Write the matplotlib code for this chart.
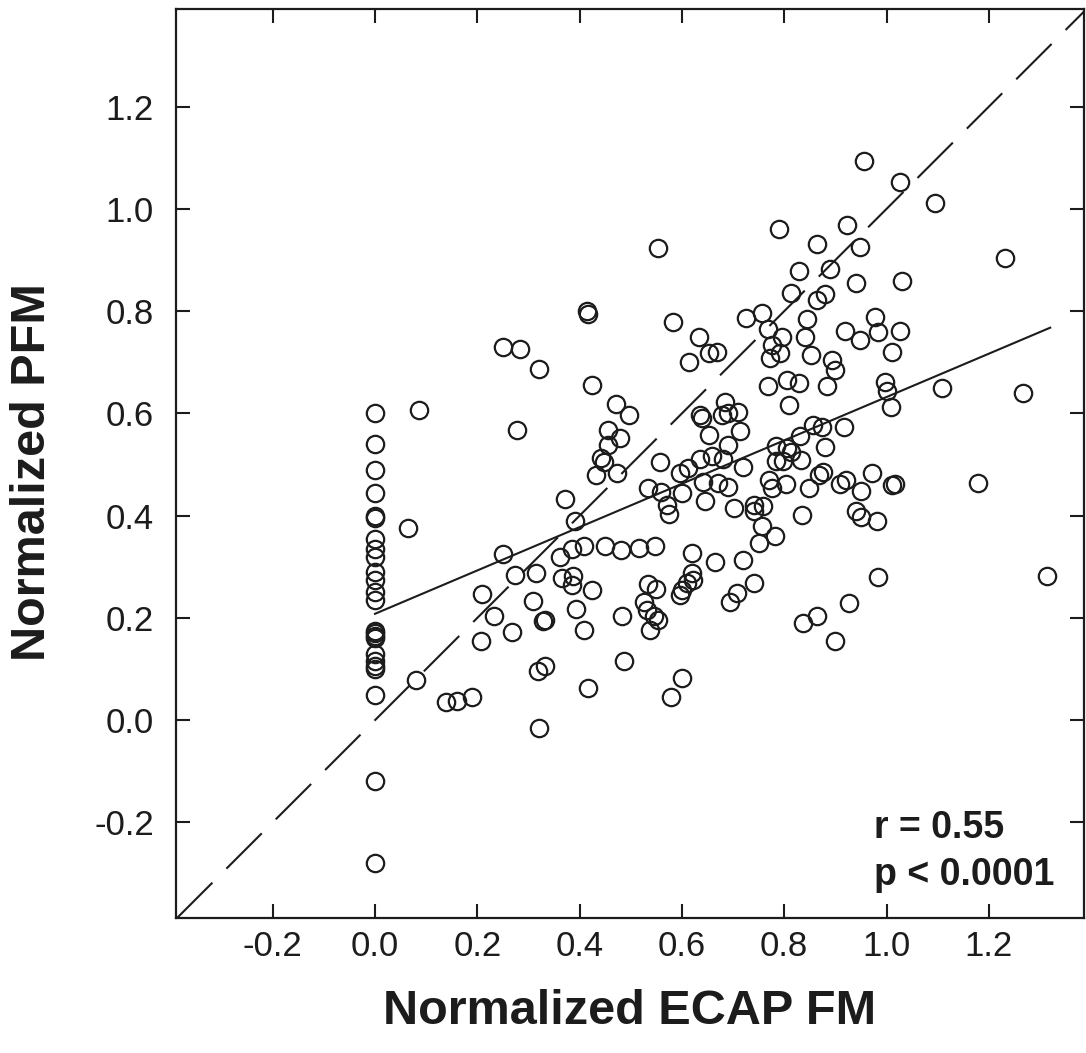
import matplotlib
matplotlib.use("Agg")
import matplotlib.pyplot as plt
import numpy as np

plt.rcParams['font.family'] = ['Liberation Sans', 'DejaVu Sans']

# ---- data -------------------------------------------------------------
# subjects with ECAP FM == 0
zero_col_y = [0.60, 0.54, 0.49, 0.445, 0.40, 0.395, 0.355, 0.335, 0.32, 0.29,
              0.275, 0.25, 0.235, 0.175, 0.17, 0.165, 0.16, 0.13, 0.115, 0.105,
              0.10, 0.05, -0.12, -0.28]

ecap_fm = [0.087, 0.065, 0.081, 0.139, 0.160, 0.190, 0.251, 0.283, 0.321, 0.277,
           0.415, 0.417, 0.425, 0.472, 0.497, 0.456, 0.479, 0.456, 0.442, 0.447,
           0.433, 0.474, 0.251, 0.210, 0.232, 0.207, 0.268, 0.274, 0.315, 0.308,
           0.329, 0.332, 0.318, 0.333, 0.320, 0.371, 0.391, 0.362, 0.386, 0.409,
           0.450, 0.365, 0.388, 0.385, 0.424, 0.393, 0.409, 0.416, 0.480, 0.517,
           0.548, 0.482, 0.487, 0.534, 0.550, 0.525, 0.532, 0.545, 0.554, 0.538,
           0.600, 0.578, 0.619, 0.665, 0.719, 0.740, 0.707, 0.694, 0.619, 0.622,
           0.609, 0.600, 0.596, 0.837, 0.865, 0.927, 0.899, 0.984, 1.314, 0.558,
           0.596, 0.611, 0.635, 0.658, 0.680, 0.691, 0.720, 0.534, 0.560, 0.600,
           0.574, 0.570, 0.641, 0.645, 0.671, 0.691, 0.702, 0.740, 0.741, 0.759,
           0.756, 0.782, 0.751, 0.771, 0.776, 0.804, 0.783, 0.805, 0.813, 0.784,
           0.797, 0.833, 0.849, 0.867, 0.875, 0.880, 0.834, 0.909, 0.921, 0.940,
           0.951, 0.982, 0.971, 0.951, 1.010, 1.016, 1.178, 0.831, 0.857, 0.874,
           0.916, 0.635, 0.639, 0.684, 0.678, 0.691, 0.710, 0.652, 0.714, 0.769,
           0.805, 0.829, 0.883, 0.810, 0.633, 0.652, 0.668, 0.613, 0.583, 0.725,
           0.756, 0.769, 0.795, 0.841, 0.776, 0.792, 0.772, 0.852, 0.844, 0.893,
           0.899, 0.918, 0.948, 0.978, 0.984, 1.026, 1.010, 0.997, 1.000, 1.008,
           1.108, 1.267, 0.554, 0.790, 0.922, 0.865, 0.948, 0.828, 0.890, 0.940,
           1.030, 0.813, 0.864, 0.880, 0.955, 1.026, 1.094, 1.232]

pfm = [0.607, 0.376, 0.079, 0.036, 0.037, 0.045, 0.729, 0.726, 0.687, 0.568,
       0.800, 0.795, 0.656, 0.619, 0.597, 0.568, 0.552, 0.539, 0.513, 0.505,
       0.480, 0.483, 0.325, 0.247, 0.203, 0.155, 0.172, 0.284, 0.288, 0.234,
       0.193, 0.195, 0.097, 0.105, -0.015, 0.432, 0.389, 0.320, 0.335, 0.340,
       0.341, 0.278, 0.281, 0.265, 0.254, 0.218, 0.176, 0.063, 0.333, 0.337,
       0.340, 0.203, 0.115, 0.267, 0.256, 0.232, 0.216, 0.203, 0.196, 0.177,
       0.082, 0.045, 0.327, 0.309, 0.314, 0.268, 0.249, 0.232, 0.288, 0.275,
       0.268, 0.255, 0.245, 0.190, 0.203, 0.229, 0.154, 0.280, 0.281, 0.505,
       0.483, 0.493, 0.510, 0.516, 0.510, 0.539, 0.495, 0.454, 0.447, 0.444,
       0.404, 0.421, 0.465, 0.428, 0.464, 0.457, 0.415, 0.421, 0.410, 0.418,
       0.379, 0.361, 0.346, 0.469, 0.454, 0.462, 0.537, 0.533, 0.524, 0.506,
       0.506, 0.508, 0.454, 0.480, 0.486, 0.535, 0.402, 0.462, 0.470, 0.410,
       0.398, 0.389, 0.483, 0.449, 0.460, 0.462, 0.464, 0.555, 0.578, 0.574,
       0.573, 0.597, 0.591, 0.623, 0.597, 0.601, 0.602, 0.558, 0.566, 0.653,
       0.666, 0.660, 0.653, 0.617, 0.750, 0.718, 0.721, 0.701, 0.778, 0.787,
       0.796, 0.765, 0.750, 0.750, 0.734, 0.718, 0.708, 0.715, 0.784, 0.705,
       0.685, 0.761, 0.744, 0.789, 0.760, 0.761, 0.721, 0.662, 0.643, 0.613,
       0.649, 0.640, 0.924, 0.960, 0.969, 0.932, 0.926, 0.879, 0.882, 0.855,
       0.858, 0.836, 0.822, 0.833, 1.093, 1.053, 1.012, 0.904]

# linear fit shown in the figure
fit_x = [0.0, 1.32]
fit_intercept = 0.208
fit_slope = 0.424

x_ticks = [-0.2, 0.0, 0.2, 0.4, 0.6, 0.8, 1.0, 1.2]
y_ticks = [-0.2, 0.0, 0.2, 0.4, 0.6, 0.8, 1.0, 1.2]
stats_text = ["r = 0.55", "p < 0.0001"]

# ---- figure -----------------------------------------------------------
ink = '#1c1c1c'
fig = plt.figure(figsize=(10.86, 10.53), dpi=100)
ax = fig.add_axes([176 / 1086, 135 / 1053, 908 / 1086, 909 / 1053])

x_all = np.concatenate([np.zeros(len(zero_col_y)), np.array(ecap_fm)])
y_all = np.concatenate([np.array(zero_col_y), np.array(pfm)])

ax.plot(x_all, y_all, linestyle='none', marker='o', markersize=12.5,
        markerfacecolor='none', markeredgecolor=ink, markeredgewidth=1.6,
        zorder=3)

# identity line
ax.axline((0, 0), slope=1, color=ink, linewidth=1.5,
          dashes=(24, 9.5), zorder=2)

# regression line
fx = np.array(fit_x)
ax.plot(fx, fit_intercept + fit_slope * fx, color=ink, linewidth=1.5, zorder=2)

ax.set_xlim(-0.389, 1.386)
ax.set_ylim(-0.387, 1.391)
ax.set_xticks(x_ticks)
ax.set_yticks(y_ticks)
ax.set_xticklabels([f"{v:.1f}" for v in x_ticks])
ax.set_yticklabels([f"{v:.1f}" for v in y_ticks])

ax.tick_params(axis='both', direction='in', length=10, width=1.5,
               color=ink, labelcolor=ink, labelsize=25,
               top=True, right=True)
ax.tick_params(axis='x', pad=9)
ax.tick_params(axis='y', pad=16)

for sp in ax.spines.values():
    sp.set_linewidth(1.6)
    sp.set_color(ink)

ax.set_xlabel("Normalized ECAP FM", fontsize=35, fontweight='bold', color=ink)
ax.set_ylabel("Normalized PFM", fontsize=35, fontweight='bold', color=ink)
ax.xaxis.label.set_va('center')
ax.yaxis.label.set_va('center')
ax.xaxis.set_label_coords(0.5, (918 - 1012) / 909)
ax.yaxis.set_label_coords((33 - 176) / 908, (918 - 472) / 909)

ax.text((874 - 176) / 908, (918 - 838) / 909, stats_text[0],
        transform=ax.transAxes, fontsize=27, fontweight='bold',
        ha='left', va='baseline', color=ink)
ax.text((874 - 176) / 908, (918 - 885) / 909, stats_text[1],
        transform=ax.transAxes, fontsize=27, fontweight='bold',
        ha='left', va='baseline', color=ink)

fig.savefig("out.png", dpi=100)
